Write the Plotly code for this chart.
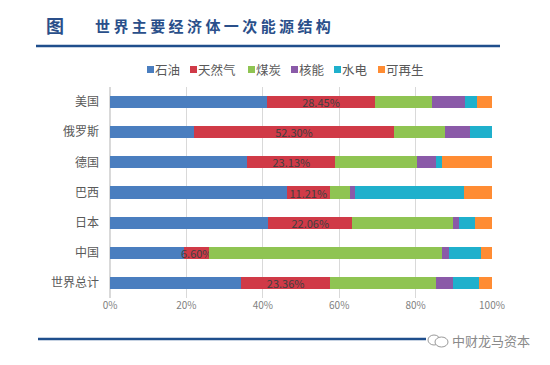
import plotly.graph_objects as go

countries = ["美国", "俄罗斯", "德国", "巴西", "日本", "中国", "世界总计"]
series_names = ["石油", "天然气", "煤炭", "核能", "水电", "可再生"]
oil = [41.0, 22.0, 35.9, 46.3, 41.4, 19.4, 34.3]
gas = [28.45, 52.30, 23.13, 11.21, 22.06, 6.60, 23.36]
coal = [14.95, 13.3, 21.4, 5.4, 26.4, 60.9, 27.7]
nuclear = [8.5, 6.7, 4.9, 1.3, 1.5, 1.8, 4.4]
hydro = [3.1, 5.7, 1.7, 28.4, 4.1, 8.3, 6.8]
renew = [4.0, 0.0, 12.97, 7.39, 4.54, 3.0, 3.44]
colors = ["#4a7ebf", "#d03a47", "#8fc452", "#8a5aa8", "#1fb0cc", "#ff8c33"]
legend_x_px = [147, 190, 248, 291, 334, 378]

FONT = "Noto Sans CJK SC"
OFF = 8  # page body margin
W, H = 550 - OFF, 365 - OFF
PW, PH = 382, 211
ML, MT = 110 - OFF, 87 - OFF
MR, MB = W - ML - PW, H - MT - PH


def px(x):
    return (x - OFF - ML) / PW


def py(y):
    return (MT + PH - (y - OFF)) / PH


fig = go.Figure()
for name, vals, col in zip(series_names, [oil, gas, coal, nuclear, hydro, renew], colors):
    kw = {}
    if name == "天然气":
        kw = dict(text=[f"{v:.2f}%" for v in vals], textposition="inside",
                  insidetextanchor="middle", textangle=0, constraintext="none",
                  textfont=dict(color="#404040", size=11, family=FONT))
    fig.add_trace(go.Bar(y=countries, x=vals, name=name, orientation="h",
                         marker=dict(color=col, line=dict(width=0)),
                         hoverinfo="x+name", **kw))

fig.update_layout(
    width=W, height=H, barmode="stack", bargap=0.6,
    paper_bgcolor="white", plot_bgcolor="white",
    margin=dict(l=ML, r=MR, t=MT, b=MB, autoexpand=False),
    font=dict(family=FONT, color="#595959"),
    showlegend=False,
)
fig.update_xaxes(range=[0, 100], dtick=20, ticksuffix="%", showgrid=True,
                 gridcolor="#d9d9d9", gridwidth=1, zeroline=True, zerolinecolor="#d9d9d9",
                 tickfont=dict(size=10, color="#7f7f7f"), fixedrange=True)
fig.update_yaxes(categoryorder="array", categoryarray=countries, autorange="reversed",
                 tickfont=dict(size=12, color="#595959"), ticklabelstandoff=10,
                 showgrid=False, fixedrange=True)

# legend (manual, to match compact Excel-style legend)
for name, col, lx in zip(series_names, colors, legend_x_px):
    fig.add_shape(type="rect", xref="paper", yref="paper",
                  x0=px(lx), x1=px(lx + 7), y0=py(73), y1=py(66),
                  fillcolor=col, line=dict(width=0))
    fig.add_annotation(text=name, xref="paper", yref="paper", x=px(lx + 7), y=py(69.5),
                       showarrow=False, xanchor="left", yanchor="middle", borderpad=0,
                       font=dict(size=12.5, color="#595959", family=FONT))

# title block
fig.add_annotation(text="<b>图</b>", xref="paper", yref="paper", x=px(55),
                   y=py(25), showarrow=False, xanchor="center", yanchor="middle",
                   font=dict(size=18, color="#2a4f8a", family=FONT))
fig.add_annotation(text="<b>世 界 主 要 经 济 体 一 次 能 源 结 构</b>", xref="paper", yref="paper",
                   x=px(94), y=py(25), showarrow=False, borderpad=0,
                   xanchor="left", yanchor="middle",
                   font=dict(size=15, color="#2a4f8a", family=FONT))
fig.add_shape(type="line", xref="paper", yref="paper", x0=px(36), x1=px(500),
              y0=py(46), y1=py(46), line=dict(color="#1f4e8c", width=2.5))
fig.add_shape(type="line", xref="paper", yref="paper", x0=px(38), x1=px(426),
              y0=py(339), y1=py(339), line=dict(color="#1f4e8c", width=2.5))
# watermark
fig.add_shape(type="circle", xref="paper", yref="paper", x0=px(428), x1=px(440),
              y0=py(345), y1=py(335), line=dict(color="#9a9a9a", width=1), fillcolor="white")
fig.add_shape(type="circle", xref="paper", yref="paper", x0=px(435), x1=px(448),
              y0=py(347), y1=py(337), line=dict(color="#9a9a9a", width=1), fillcolor="white")
fig.add_annotation(text="中财龙马资本", xref="paper", yref="paper",
                   x=px(451), y=py(340), showarrow=False, borderpad=0,
                   xanchor="left", yanchor="middle",
                   font=dict(size=13, color="#8a8a8a", family=FONT))

fig.write_html("out.html")
